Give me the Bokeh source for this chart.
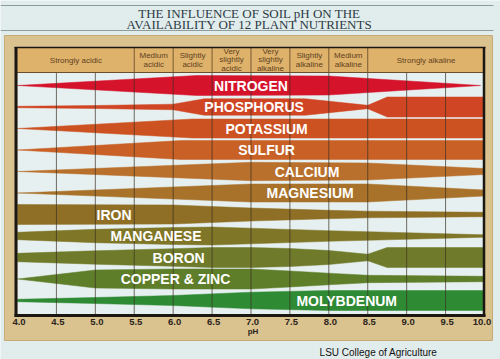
from bokeh.plotting import figure
from bokeh.models import Range1d
from bokeh.core.properties import value
from bokeh.embed import file_html
from bokeh.resources import INLINE

# ---------------- data ----------------
TITLE_LINES = ["THE INFLUENCE OF SOIL pH ON THE", "AVAILABILITY OF 12 PLANT NUTRIENTS"]
SOURCE_TEXT = "LSU College of Agriculture"
AXIS_NAME = "pH"

CLASS_BOUNDS = [4.0, 5.5, 6.0, 6.5, 7.0, 7.5, 8.0, 8.5, 10.0]
CLASS_NAMES = ["Strongly acidic", "Medium\nacidic", "Slightly\nacidic", "Very\nslightly\nacidic",
               "Very\nslightly\nalkaline", "Slightly\nalkaline", "Medium\nalkaline", "Strongly alkaline"]

PH_TICKS = [4.0, 4.5, 5.0, 5.5, 6.0, 6.5, 7.0, 7.5, 8.0, 8.5, 9.0, 9.5, 10.0]
TICK_LABELS = ["4.0", "4.5", "5.0", "5.5", "6.0", "6.5", "7.0", "7.5", "8.0", "8.5", "9.0", "9.5", "10.0"]

NUTRIENTS = ["NITROGEN", "PHOSPHORUS", "POTASSIUM", "SULFUR", "CALCIUM", "MAGNESIUM",
             "IRON", "MANGANESE", "BORON", "COPPER & ZINC", "MOLYBDENUM"]

# relative availability (band width, 1 = full) at pH breakpoints
NITROGEN_PH = [4.0, 6.3, 8.0, 9.95]
NITROGEN_W = [0.0, 1.0, 0.95, 0.0]
PHOSPHORUS_PH = [4.0, 5.0, 6.0, 6.4, 7.7, 8.5, 8.75, 10.0]
PHOSPHORUS_W = [0.07, 0.15, 0.28, 0.82, 0.82, 0.17, 1.0, 1.0]
POTASSIUM_PH = [4.0, 6.25, 10.0]
POTASSIUM_W = [0.0, 0.95, 0.95]
SULFUR_PH = [4.0, 6.1, 10.0]
SULFUR_W = [0.0, 0.95, 0.95]
CALCIUM_PH = [4.0, 7.0, 8.5, 10.0]
CALCIUM_W = [0.0, 0.92, 0.85, 0.3]
MAGNESIUM_PH = [4.0, 7.0, 8.5, 10.0]
MAGNESIUM_W = [0.0, 0.9, 0.9, 0.3]
IRON_PH = [4.0, 6.0, 7.0, 8.0, 8.5, 10.0]
IRON_W = [1.0, 0.95, 0.65, 0.42, 0.33, 0.22]
MANGANESE_PH = [4.0, 5.0, 6.0, 6.5, 7.0, 8.0, 8.5, 10.0]
MANGANESE_W = [0.37, 0.67, 0.85, 0.9, 0.78, 0.53, 0.43, 0.12]
BORON_PH = [4.0, 5.0, 6.0, 6.5, 7.0, 7.5, 8.0, 8.5, 8.75, 10.0]
BORON_W = [0.42, 0.67, 0.88, 1.0, 1.0, 0.9, 0.7, 0.33, 1.0, 1.0]
COPPER_ZINC_PH = [4.0, 5.0, 6.0, 7.0, 7.5, 8.0, 8.5, 10.0]
COPPER_ZINC_W = [0.0, 0.9, 1.0, 1.0, 0.8, 0.58, 0.37, 0.27]
MOLYBDENUM_PH = [4.0, 5.0, 6.0, 7.0, 8.0, 10.0]
MOLYBDENUM_W = [0.12, 0.3, 0.5, 0.83, 1.0, 1.0]

PROFILES_PH = [NITROGEN_PH, PHOSPHORUS_PH, POTASSIUM_PH, SULFUR_PH, CALCIUM_PH, MAGNESIUM_PH,
               IRON_PH, MANGANESE_PH, BORON_PH, COPPER_ZINC_PH, MOLYBDENUM_PH]
PROFILES_W = [NITROGEN_W, PHOSPHORUS_W, POTASSIUM_W, SULFUR_W, CALCIUM_W, MAGNESIUM_W,
              IRON_W, MANGANESE_W, BORON_W, COPPER_ZINC_W, MOLYBDENUM_W]

# label anchor (pH) for each nutrient name
LABEL_PH = [7.0, 7.04, 7.2, 7.2, 7.72, 7.76, 5.24, 5.78, 6.07, 6.03, 8.23]

# ---------------- style ----------------
BAND_COLORS = ["#d5142c", "#d04523", "#cd5222", "#c96126", "#b9702d", "#a8722a",
               "#8f6f25", "#7f7628", "#6f7b2a", "#5e7e2a", "#2f8a34"]
BG = "#e1ecec"
PLOT_BG = "#e6f0f0"
FRAME = "#dbc38f"
HEADER = "#deb26b"
HEADER_TEXT = "#5e3f20"

W, H = 500, 359
PX_PER_PH = 77.83     # pixels per pH unit
X_PH4 = 17.0          # x of pH 4.0
ROW_STEP = 21.5       # pixels between nutrient rows
ROW0 = 85.0           # y of first row centre
HALF = 10.0 / ROW_STEP  # half band height (rows) at full availability


def fx(px):
    return 4.0 + (px - X_PH4) / PX_PER_PH


def fy(py):
    return (py - ROW0) / ROW_STEP


p = figure(width=W, height=H, x_range=Range1d(fx(0), fx(W)), y_range=Range1d(fy(H), fy(0)),
           output_backend="svg", toolbar_location=None, min_border=0,
           x_axis_type=None, y_axis_type=None)
p.grid.visible = False
p.outline_line_color = None
p.background_fill_color = BG
p.border_fill_color = BG

# title rules and title
p.segment(x0=[fx(0), fx(0)], x1=[fx(493), fx(493)], y0=[fy(5), fy(30)], y1=[fy(5), fy(30)],
          line_color="#8e9c9c", line_width=1)
p.text(x=[fx(249), fx(249)], y=[fy(12.8), fy(23.8)], text=TITLE_LINES,
       text_font=value("Liberation Serif"), text_font_size="13px", text_color="#2c3a44",
       text_align="center", text_baseline="middle")

# tan frame, header and plotting area
p.quad(left=[fx(4)], right=[fx(492)], top=[fy(35)], bottom=[fy(340)], fill_color=FRAME,
       line_color="#c6ab74", line_width=1)
p.quad(left=[fx(16)], right=[fx(483)], top=[fy(47.5)], bottom=[fy(72)], fill_color=HEADER, line_color=None)
p.quad(left=[4.0], right=[10.0], top=[fy(72)], bottom=[fy(314)], fill_color=PLOT_BG, line_color=None)

# nutrient bands
xs, ys = [], []
for i, (ph, w) in enumerate(zip(PROFILES_PH, PROFILES_W)):
    xs.append(list(ph) + list(ph[::-1]))
    ys.append([i - v * HALF for v in w] + [i + v * HALF for v in w[::-1]])
p.patches(xs=xs, ys=ys, fill_color=BAND_COLORS, line_color=BAND_COLORS, line_width=0.5)

# grid lines over the bands
inner = PH_TICKS[1:-1]
p.segment(x0=inner, x1=inner, y0=[fy(72)] * len(inner), y1=[fy(314)] * len(inner),
          line_color="#3a3024", line_alpha=0.7, line_width=1)
# header separators
seps = CLASS_BOUNDS[1:-1]
p.segment(x0=seps, x1=seps, y0=[fy(47.5)] * len(seps), y1=[fy(72)] * len(seps),
          line_color="#7a5a34", line_width=1)
p.segment(x0=[fx(16)], x1=[fx(483)], y0=[fy(72)], y1=[fy(72)], line_color="#6b4e2e", line_width=1)

# black border
p.segment(x0=[fx(15.5), fx(14), fx(483.5), fx(14)], x1=[fx(15.5), fx(485), fx(483.5), fx(485)],
          y0=[fy(46.5), fy(315), fy(46.5), fy(47)], y1=[fy(316.5), fy(315), fy(316.5), fy(47)],
          line_color="#1b1712", line_width=[3, 3, 2.5, 1.5])

# header labels
centers = [(a + b) / 2 for a, b in zip(CLASS_BOUNDS[:-1], CLASS_BOUNDS[1:])]
p.text(x=centers, y=[fy(59.5)] * len(centers), text=CLASS_NAMES,
       text_font=value("Liberation Sans"), text_font_size="8px", text_color=HEADER_TEXT,
       text_align="center", text_baseline="middle", text_line_height=0.95)

# nutrient names
p.text(x=LABEL_PH, y=list(range(len(NUTRIENTS))), text=NUTRIENTS,
       text_font=value("Liberation Sans"), text_font_size="14px", text_font_style="bold",
       text_color="#ffffff", text_align="center", text_baseline="middle")

# tick labels and axis name
p.text(x=[t + 1.5 / PX_PER_PH for t in PH_TICKS[:-1]] + [PH_TICKS[-1] - 2.5 / PX_PER_PH],
       y=[fy(321.5)] * len(PH_TICKS), text=TICK_LABELS,
       text_font=value("Liberation Sans"), text_font_size="9.5px", text_font_style="bold",
       text_color="#2a241c", text_align="center", text_baseline="middle")
p.text(x=[7.0 + 2 / PX_PER_PH], y=[fy(331)], text=[AXIS_NAME],
       text_font=value("Liberation Sans"), text_font_size="8px", text_font_style="bold",
       text_color="#2a241c", text_align="center", text_baseline="middle")

# source
p.text(x=[fx(378)], y=[fy(351.5)], text=[SOURCE_TEXT],
       text_font=value("Liberation Sans"), text_font_size="10px", text_color="#111111",
       text_align="center", text_baseline="middle")

open("out.html", "w").write(file_html(p, INLINE))
